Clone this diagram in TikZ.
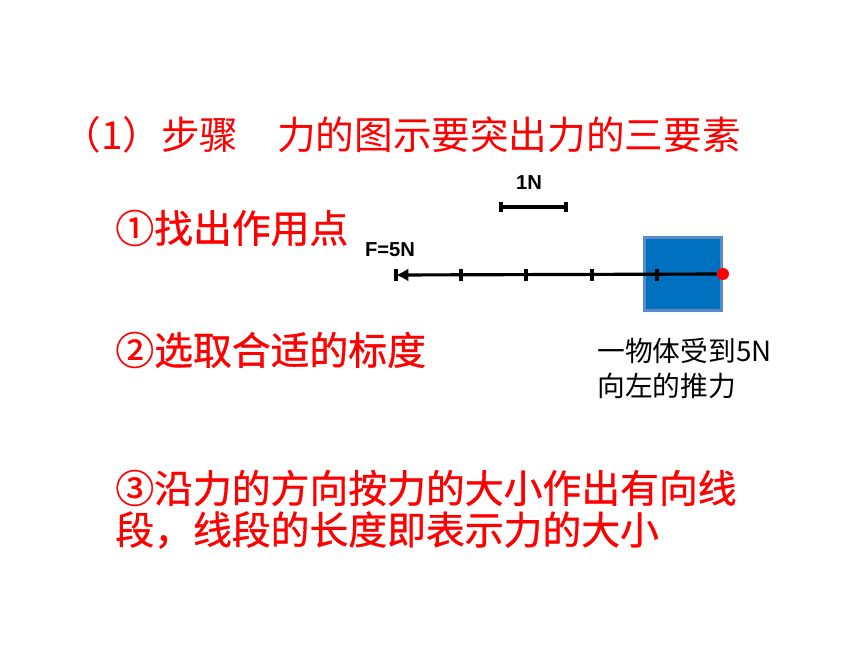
\documentclass[tikz,border=0pt]{standalone}
\usepackage{fontspec}
\setsansfont{Liberation Sans}
\newfontfamily\cjk{Noto Sans CJK SC}
\newfontfamily\cjkheavy[FakeBold=0.8]{Noto Sans CJK SC}
\usetikzlibrary{arrows.meta, positioning}
\definecolor{blockfill}{RGB}{0,112,192}
\definecolor{blockedge}{RGB}{91,138,198}
\begin{document}
\begin{tikzpicture}[x=0.02cm, y=-0.02cm,
  redtxt/.style={text=red, font=\cjk\fontsize{22pt}{26pt}\selectfont, anchor=west, inner sep=0pt},
  steptxt/.style={redtxt, font=\cjkheavy\fontsize{22.1pt}{26pt}\selectfont},
  note/.style={font=\cjk\fontsize{15.8pt}{19.5pt}\selectfont, anchor=north west, inner sep=0pt, align=left},
  lbl/.style={font=\sffamily\bfseries\fontsize{11.5pt}{13pt}\selectfont, inner sep=0pt},
  tickmark/.style={line width=2.3pt},
  force/.style={line width=1.8pt},
  block/.style={rectangle, draw=blockedge, fill=blockfill, line width=1.7pt, minimum width=1.54cm, minimum height=1.46cm, inner sep=0pt},
  dot/.style={circle, fill=red, minimum size=0.24cm, inner sep=0pt},
]
\useasboundingbox (0,0) rectangle (860,645);

% headings and steps
\node[redtxt] (title) at (62,135) {（1）步骤　力的图示要突出力的三要素};
\node[steptxt] (stepa) at (115,228) {①找出作用点};
\node[steptxt] (stepb) at (115,350) {②选取合适的标度};
\node[steptxt] (stepc) at (115,488) {③沿力的方向按力的大小作出有向线};
\node[steptxt] (stepd) at (115,530) {段，线段的长度即表示力的大小};

% scale
\node[lbl] (unit) at (529,183) {1N};
\coordinate (sa) at (501,207);
\coordinate (sb) at (566,207);
\draw[force] (sa) -- (sb);
\foreach \sx in {501,566}
  \draw[tickmark] (\sx,202) -- (\sx,212);

% block and force
\node[block] (blk) at (683,274) {};
\node[dot] (pt) at (723,274) {};
\coordinate (tail) at (396,275);
\draw[force, -{Latex[length=7pt,width=7.5pt]}] (pt) -- (tail);
\foreach \tx in {396,461,526,592,657}
  \draw[tickmark] (\tx,269) -- (\tx,281);
\node[lbl] (fval) at (390,250) {F=5N};

\node[note] (desc) at (597,338) {一物体受到5N\\向左的推力};
\end{tikzpicture}
\end{document}
